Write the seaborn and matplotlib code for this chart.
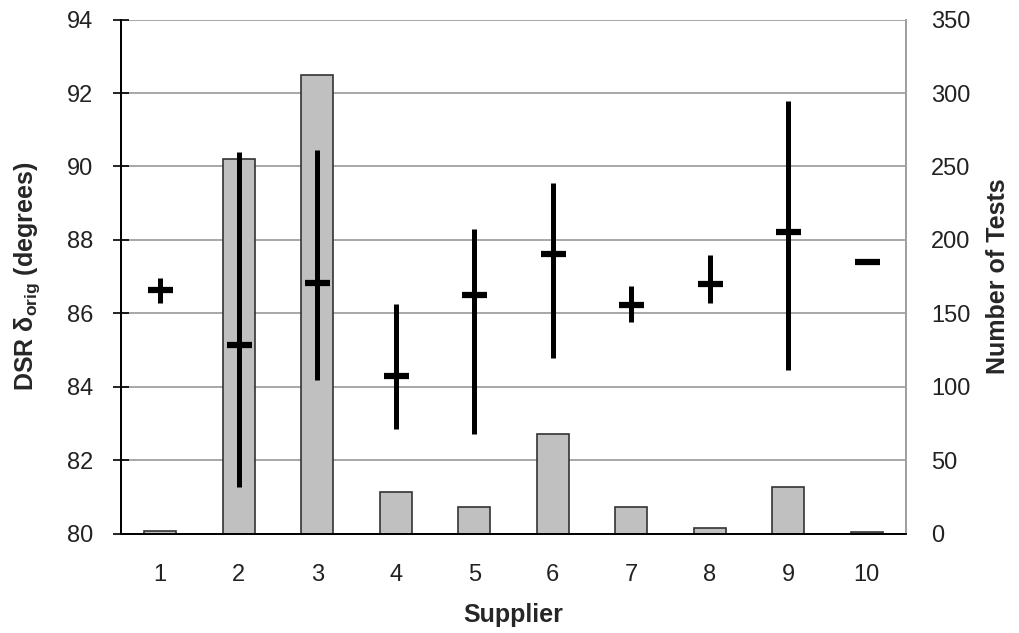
import numpy as np
import pandas as pd
import matplotlib
matplotlib.use("Agg")
import matplotlib.pyplot as plt
import seaborn as sns

sns.set_style("white")
plt.rcParams["font.family"] = ["Liberation Sans", "DejaVu Sans"]
plt.rcParams.update(
    {
        "font.size": 17,
        "mathtext.fontset": "custom",
        "mathtext.rm": "Liberation Sans",
        "mathtext.bf": "Liberation Sans:bold",
    }
)

# data
suppliers = ["1", "2", "3", "4", "5", "6", "7", "8", "9", "10"]
n_tests = [2, 255, 312, 28, 18, 68, 18, 4, 32, 1]
dsr_mean = [86.63, 85.15, 86.83, 84.29, 86.49, 87.61, 86.22, 86.79, 88.21, 87.40]
dsr_high = [86.97, 90.39, 90.44, 86.26, 88.30, 89.56, 86.74, 87.58, 91.77, 87.40]
dsr_low = [86.29, 81.27, 84.18, 82.86, 82.70, 84.78, 85.76, 86.29, 84.47, 87.40]

df = pd.DataFrame({"Supplier": suppliers, "Tests": n_tests})

fig = plt.figure(figsize=(10.19, 6.33), dpi=100)
ax = fig.add_axes([0.1187, 0.157, 0.7703, 0.812])
ax2 = ax.twinx()

# bars (number of tests) on the right axis, drawn behind
sns.barplot(
    data=df, x="Supplier", y="Tests", ax=ax2, color="#C0C0C0",
    width=0.41, edgecolor="#333333", linewidth=1.2, saturation=1,
)
ax2.set_ylim(0, 350)
ax2.set_yticks(np.arange(0, 351, 50))
ax2.yaxis.grid(True, color="#A0A0A0", linewidth=1.3)
ax2.set_axisbelow(True)
ax2.tick_params(axis="y", length=0, pad=18, labelsize=17, labelcolor="#222222")
ax2.set_ylabel("Number of Tests", fontweight="bold", fontsize=18, labelpad=11)
ax2.set_xlabel("")

# DSR mean with range on the left axis, drawn on top
ax.set_zorder(ax2.get_zorder() + 1)
ax.patch.set_visible(False)
pos = np.arange(len(suppliers))
mean = np.array(dsr_mean)
err = [mean - np.array(dsr_low), np.array(dsr_high) - mean]
ax.errorbar(
    pos, mean, yerr=err, fmt="_", color="black", ecolor="black",
    markersize=18, markeredgewidth=4.5, elinewidth=3.6, capsize=0,
)
ax.set_ylim(80, 94)
ax.set_yticks(np.arange(80, 95, 2))
ax.set_xlim(-0.5, len(suppliers) - 0.5)
ax.set_xticks(pos)
ax.set_xticklabels(suppliers)
ax.set_xticks(np.arange(-0.5, len(suppliers)), minor=True)
ax.tick_params(axis="x", which="major", length=0, pad=22, labelsize=17, labelcolor="#222222")
ax.tick_params(axis="x", which="minor", direction="inout", length=12, width=1.2, color="black")
ax.tick_params(axis="y", direction="inout", length=12, width=1.2, color="black",
               pad=14, labelsize=17, labelcolor="#222222", left=True)
ax.set_ylabel(r"DSR δ$_{\mathbf{orig}}$ (degrees)", fontweight="bold", fontsize=18, labelpad=18)
ax.set_xlabel("Supplier", fontweight="bold", fontsize=18, labelpad=12)

for a in (ax, ax2):
    a.spines["top"].set_visible(False)
    a.spines["left"].set_color("black")
    a.spines["left"].set_linewidth(1.3)
    a.spines["bottom"].set_color("black")
    a.spines["bottom"].set_linewidth(1.3)
    a.spines["right"].set_color("#A0A0A0")
    a.spines["right"].set_linewidth(1.3)
ax2.tick_params(axis="x", bottom=False, labelbottom=False)

fig.savefig("out.png", dpi=100)
